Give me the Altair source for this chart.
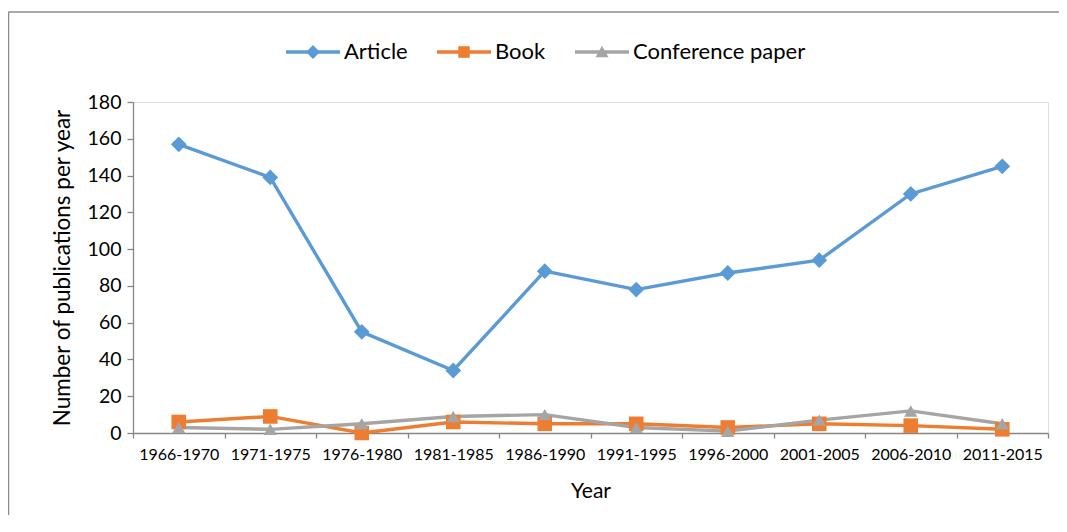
import altair as alt
import pandas as pd

categories = ["1966-1970", "1971-1975", "1976-1980", "1981-1985", "1986-1990",
              "1991-1995", "1996-2000", "2001-2005", "2006-2010", "2011-2015"]
article = [157, 139, 55, 34, 88, 78, 87, 94, 130, 145]
book = [6, 9, 0, 6, 5, 5, 3, 5, 4, 2]
conference = [3, 2, 5, 9, 10, 3, 1, 7, 12, 5]

series_names = ["Article", "Book", "Conference paper"]
series_colors = ["#5B9BD5", "#ED7D31", "#A5A5A5"]

rows = []
for name, vals in zip(series_names, [article, book, conference]):
    for c, v in zip(categories, vals):
        rows.append({"period": c, "value": v, "series": name})
df = pd.DataFrame(rows)

FONT = "Lato"
W, H = 915, 331
PAD_R, PAD_B = 11, 82

x_enc = alt.X("period:N", sort=categories,
              scale=alt.Scale(type="band", paddingInner=0, paddingOuter=0, domain=categories),
              axis=alt.Axis(title="Year", tickBand="extent", labelAngle=0,
                            labelFontSize=16, labelFont=FONT, labelColor="#000000",
                            labelPadding=8, titleFont=FONT, titleFontSize=21,
                            titleFontWeight="normal", titleColor="#000000", titlePadding=18,
                            domainColor="#868686", tickColor="#868686", tickSize=5,
                            domainWidth=1.3, tickWidth=1.3, grid=False))
y_enc = alt.Y("value:Q", scale=alt.Scale(domain=[0, 180], nice=False),
              axis=alt.Axis(title="Number of publications per year",
                            values=list(range(0, 181, 20)), grid=False,
                            labelFontSize=19.5, labelFont=FONT, labelColor="#000000",
                            labelPadding=6, titleFont=FONT, titleFontSize=22.5,
                            titleFontWeight="normal", titleColor="#000000", titlePadding=13,
                            domainColor="#868686", tickColor="#868686", tickSize=6,
                            domainWidth=1.3, tickWidth=1.3))

color_scale = alt.Scale(domain=series_names, range=series_colors)

base = alt.Chart(df)

lines = base.mark_line(strokeWidth=3.4).encode(
    x=x_enc, y=y_enc,
    color=alt.Color("series:N", scale=color_scale, legend=None),
)

points = base.mark_point(filled=True, opacity=1).encode(
    x=x_enc, y=y_enc,
    color=alt.Color("series:N", scale=color_scale, legend=None),
    shape=alt.Shape("series:N", scale=alt.Scale(domain=series_names,
                                                range=["diamond", "square", "triangle-up"]),
                    legend=None),
    size=alt.Size("series:N", scale=alt.Scale(domain=series_names, range=[250, 175, 210]),
                  legend=None),
)

# legend symbols: line segment + marker
bar = "M-5.4,-0.34H5.4V0.34H-5.4Z"
legend_paths = [
    bar + " M0,-1.4L1.4,0L0,1.4L-1.4,0Z",
    bar + " M-1.15,-1.15H1.15V1.15H-1.15Z",
    bar + " M0,-1.25L1.3,1.05L-1.3,1.05Z",
]

legend_props = dict(title=None, orient="none", direction="horizontal",
                    legendX=169, legendY=-61,
                    symbolSize=100, symbolOpacity=1,
                    labelFont=FONT, labelFontSize=22, labelColor="#000000",
                    labelOffset=20, columnPadding=26, padding=0, labelLimit=400)

legend_layer = base.mark_point(filled=True).encode(
    x=x_enc, y=y_enc,
    fill=alt.Fill("series:N", scale=alt.Scale(domain=series_names, range=series_colors),
                  legend=alt.Legend(**legend_props)),
    shape=alt.Shape("series:N", scale=alt.Scale(domain=series_names, range=legend_paths),
                    legend=alt.Legend(**legend_props)),
).transform_filter("false")

frame_src = alt.Chart(pd.DataFrame({"a": [0]}))
frame_top = frame_src.mark_rule(stroke="#8C8C8C", strokeWidth=1.5).encode(
    x=alt.value(-124.5), x2=alt.value(W + PAD_R), y=alt.value(-90), y2=alt.value(-90),
)
frame_left = frame_src.mark_rule(stroke="#8C8C8C", strokeWidth=1.5).encode(
    x=alt.value(-124.5), x2=alt.value(-124.5), y=alt.value(-90), y2=alt.value(H + PAD_B),
)

chart = alt.layer(frame_top, frame_left, lines, points, legend_layer).resolve_scale(
    shape="independent", fill="independent", size="independent"
).properties(
    width=W, height=H,
    autosize=alt.AutoSizeParams(type="none"),
    padding={"left": 125, "top": 94, "right": PAD_R, "bottom": PAD_B},
).configure_view(stroke=None).configure(background="white")

chart.save("out.html", embed_options={"renderer": "svg", "actions": False})
